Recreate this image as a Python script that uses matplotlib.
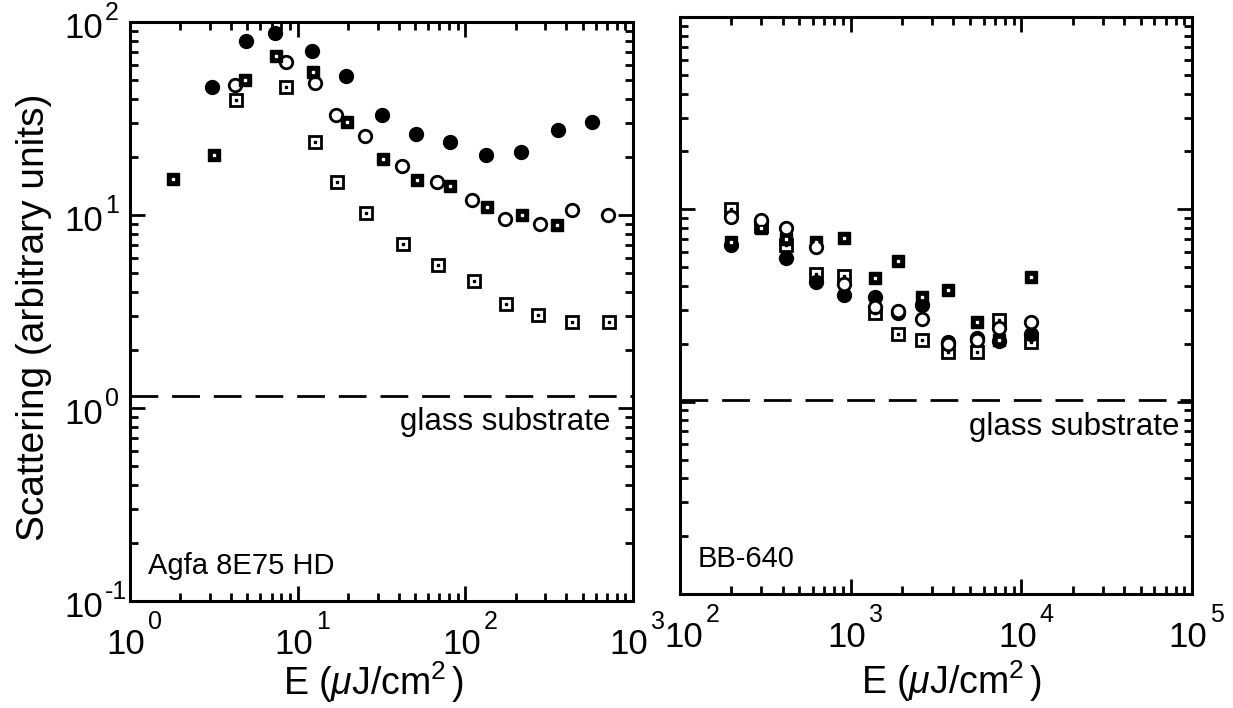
"""Scattering vs exposure for two holographic emulsions (log-log, two panels)."""
import numpy as np
import matplotlib
matplotlib.use("Agg")
import matplotlib.pyplot as plt
from matplotlib.ticker import LogLocator, NullFormatter

plt.rcParams["font.family"] = ["Liberation Sans", "DejaVu Sans"]
plt.rcParams["mathtext.fontset"] = "custom"
plt.rcParams["mathtext.rm"] = "Liberation Sans"
plt.rcParams["mathtext.it"] = "Liberation Sans:italic"

# --- left panel: Agfa 8E75 HD ---
agfa_fc_e = [3.07, 4.89, 7.28, 12.1, 19.5, 31.8, 50.6, 81.5, 132, 214, 357, 572]
agfa_fc_s = [45.9, 79.4, 87.4, 70.5, 52.5, 32.8, 26.3, 24.0, 20.5, 21.3, 27.6, 30.2]
agfa_fs_e = [1.81, 3.15, 4.84, 7.38, 12.4, 19.8, 32.2, 51.8, 80.7, 135, 219, 352]
agfa_fs_s = [15.3, 20.5, 50.1, 66.7, 55.3, 30.2, 19.4, 15.2, 14.2, 11.0, 10.0, 8.9]
agfa_oc_e = [4.22, 8.47, 12.7, 16.9, 25.3, 42.1, 67.8, 110, 172, 279, 430, 712]
agfa_oc_s = [47.0, 61.8, 48.1, 33.0, 25.7, 18.0, 14.9, 12.0, 9.5, 9.0, 10.6, 9.96]
agfa_os_e = [4.26, 8.51, 12.7, 17.1, 25.4, 42.5, 68.7, 112, 174, 271, 432, 718]
agfa_os_s = [39.4, 46.2, 23.8, 14.9, 10.2, 7.1, 5.5, 4.57, 3.44, 3.03, 2.78, 2.78]
agfa_glass = 1.15

# --- right panel: BB-640 ---
bb_e = [200, 300, 420, 630, 910, 1390, 1890, 2620, 3720, 5500, 7400, 11400]
bb_os_s = [10.1, 8.2, 6.5, 4.6, 4.5, 2.9, 2.25, 2.1, 1.82, 1.82, 2.66, 2.05]
bb_oc_s = [9.1, 8.8, 8.0, 6.4, 4.1, 3.1, 2.95, 2.7, 2.0, 2.1, 2.42, 2.6]
bb_fc_s = [6.5, 8.6, 5.6, 4.2, 3.6, 3.5, 2.9, 3.2, 2.05, 2.15, 2.07, 2.25]
bb_fs_s = [6.8, 8.0, 7.0, 6.8, 7.1, 4.4, 5.4, 3.5, 3.8, 2.6, 2.1, 4.44]
bb_glass = 1.02

# tick decades
agfa_xdec = [0, 1, 2, 3]
bb_xdec = [2, 3, 4, 5]
ydec = [-1, 0, 1, 2]

XLABEL = r"E ($\mu$J/cm$^2$$\,$)"


def filled_square(ax, x, y):
    ax.plot(x, y, ls="none", marker="s", ms=8.5, mfc="black", mec="black", zorder=3)
    ax.plot(x, y, ls="none", marker="s", ms=1.8, mfc="white", mec="white", zorder=3.1)


def open_square(ax, x, y):
    ax.plot(x, y, ls="none", marker="s", ms=8.0, mfc="white", mec="black", mew=2.0, zorder=3)
    ax.plot(x, y, ls="none", marker="s", ms=1.8, mfc="black", mec="black", zorder=3.1)


def filled_circle(ax, x, y):
    ax.plot(x, y, ls="none", marker="o", ms=10, mfc="black", mec="black", zorder=3)


def open_circle(ax, x, y):
    ax.plot(x, y, ls="none", marker="o", ms=9, mfc="white", mec="black", mew=2.0, zorder=3)


def power_label_x(ax, dec, shift=0):
    tr = ax.get_xaxis_transform()
    kw = dict(xycoords=tr, textcoords="offset pixels", annotation_clip=False)
    ax.annotate("10", xy=(10.0 ** dec, 0), xytext=(-4 + shift, -27),
                ha="center", va="top", fontsize=25, **kw)
    ax.annotate(str(dec), xy=(10.0 ** dec, 0), xytext=(18 + shift, -9),
                ha="left", va="top", fontsize=18, **kw)


def power_label_y(ax, dec):
    tr = ax.get_yaxis_transform()
    kw = dict(xycoords=tr, textcoords="offset pixels", annotation_clip=False)
    ax.annotate("10", xy=(0, 10.0 ** dec), xytext=(-27, -6),
                ha="right", va="center", fontsize=25, **kw)
    ax.annotate(str(dec), xy=(0, 10.0 ** dec), xytext=(-25, 9),
                ha="left", va="center", fontsize=18, **kw)


def style_axes(ax, xlim):
    ax.set_xscale("log")
    ax.set_yscale("log")
    ax.set_xlim(*xlim)
    ax.set_ylim(0.1, 100)
    for sp in ax.spines.values():
        sp.set_linewidth(2.2)
    for axis in (ax.xaxis, ax.yaxis):
        axis.set_major_locator(LogLocator(base=10, numticks=10))
        axis.set_minor_locator(LogLocator(base=10, subs=np.arange(2, 10), numticks=10))
        axis.set_major_formatter(NullFormatter())
        axis.set_minor_formatter(NullFormatter())
    ax.tick_params(which="both", direction="in", top=True, right=True, width=2)
    ax.tick_params(which="major", length=11)
    ax.tick_params(which="minor", length=6)


fig = plt.figure(figsize=(12.33, 7.08), dpi=100)
ax1 = fig.add_axes([0.1054, 0.1511, 0.408, 0.8178])
ax2 = fig.add_axes([0.5515, 0.161, 0.4153, 0.815])

style_axes(ax1, (1, 1000))
style_axes(ax2, (100, 1e5))

for d in agfa_xdec:
    power_label_x(ax1, d)
for i, d in enumerate(bb_xdec):
    power_label_x(ax2, d, shift=8 if i == 0 else 0)
for d in ydec:
    power_label_y(ax1, d)

ax1.set_xlabel(XLABEL, fontsize=27, va="top")
ax1.xaxis.set_label_coords(0.485, -0.1)
ax2.set_xlabel(XLABEL, fontsize=27, va="top")
ax2.xaxis.set_label_coords(0.53, -0.112)
ax1.set_ylabel("Scattering (arbitrary units)", fontsize=28)
ax1.yaxis.set_label_coords(-0.155, 0.49)

open_square(ax1, agfa_os_e, agfa_os_s)
open_circle(ax1, agfa_oc_e, agfa_oc_s)
filled_square(ax1, agfa_fs_e, agfa_fs_s)
filled_circle(ax1, agfa_fc_e, agfa_fc_s)
ax1.axhline(agfa_glass, color="black", lw=2, dashes=(10, 5))
ax1.text(0.955, 0.31, "glass substrate", transform=ax1.transAxes, ha="right",
         va="center", fontsize=22.5)
ax1.text(0.035, 0.06, "Agfa 8E75 HD", transform=ax1.transAxes, ha="left",
         va="center", fontsize=21)

open_square(ax2, bb_e, bb_os_s)
filled_square(ax2, bb_e, bb_fs_s)
filled_circle(ax2, bb_e, bb_fc_s)
open_circle(ax2, bb_e, bb_oc_s)
ax2.axhline(bb_glass, color="black", lw=2, dashes=(10, 5))
ax2.text(0.975, 0.29, "glass substrate", transform=ax2.transAxes, ha="right",
         va="center", fontsize=22.5)
ax2.text(0.035, 0.06, "BB-640", transform=ax2.transAxes, ha="left",
         va="center", fontsize=21)

fig.savefig("out.png", dpi=100)
